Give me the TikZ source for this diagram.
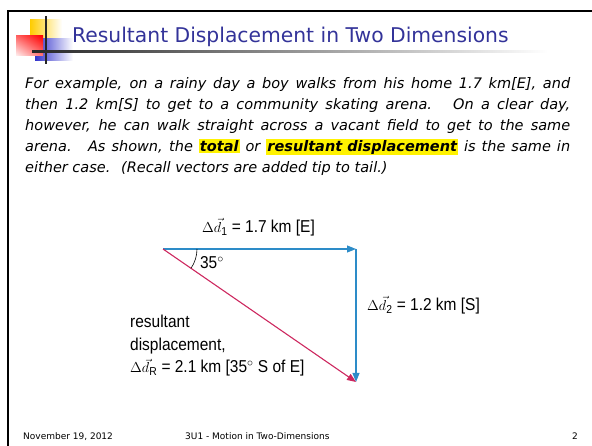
\documentclass[tikz,border=0pt]{standalone}
\usepackage{fontspec}
\setmainfont{DejaVu Sans}
\newfontfamily\figfont[FakeStretch=0.9]{Liberation Sans}
\usetikzlibrary{positioning, arrows.meta, angles, shadings}
\definecolor{TitleBlue}{RGB}{51,51,153}
\definecolor{VecBlue}{RGB}{45,140,200}
\definecolor{VecRed}{RGB}{205,40,95}
\definecolor{LogoYellow}{RGB}{255,204,0}
\definecolor{LogoBlue}{RGB}{51,51,204}
\newcommand{\hlt}[1]{{\setlength{\fboxsep}{1pt}\colorbox{yellow}{#1}}}
\newcommand{\dvec}[1]{{\fontsize{15}{15}\selectfont$\Delta\vec{d}_{\mbox{\fontsize{11.5}{11.5}\selectfont #1}}$}}
\tikzset{
  vec/.style={-{Triangle[length=9pt,width=7pt]}, line width=1.1pt},
  legvec/.style={vec, VecBlue},
  resvec/.style={vec, VecRed},
  veclab/.style={font=\figfont\fontsize{17.2}{22.5}\selectfont, inner sep=0pt},
  foot/.style={font=\fontsize{9}{11}\selectfont, anchor=base west, inner sep=0pt},
}

\begin{document}
\begin{tikzpicture}[x=1pt, y=-1pt]
\useasboundingbox (0,0) rectangle (592,446);
% slide frame
\draw[line width=2pt] (8,446) -- (8,11.5) -- (592,11.5);
% logo squares and cross
\shade[left color=LogoYellow, right color=white] (30,20) rectangle (62,48);
\shade[left color=LogoBlue, right color=white] (35,39) rectangle (73,61);
\shade[lower left=red!5, upper right=red, upper left=red!60, lower right=red!55] (16,36) rectangle (43,56);
\draw[line width=1.6pt, black!85] (45.7,16) -- (45.7,64);
\shade[left color=black!85, right color=white] (32,50.8) rectangle (548,52.6);
% title
\node[anchor=base west, text=TitleBlue, font=\fontsize{20.3}{24}\selectfont, inner sep=0pt] (title) at (72,43) {Resultant Displacement in Two Dimensions};
% text
\node[anchor=base west, text width=545pt, align=justify, inner sep=0pt, font=\itshape\fontsize{14.5}{20.8}\selectfont] (intro) at (25,89) {For example, on a rainy day a boy walks from his home 1.7 km[E], and\linebreak
then 1.2 km[S] to get to a community skating arena.~ On a clear day,\linebreak
however, he can walk straight across a vacant field to get to the same\linebreak
arena.~ As shown, the \hlt{\textbf{total}} or \hlt{\textbf{resultant displacement}} is the same in\linebreak
either case.~ (Recall vectors are added tip to tail.)};
% vectors
\coordinate (home) at (163,249);
\coordinate (turn) at (356,249);
\coordinate (arena) at (356,382);
\draw[legvec] (home) -- (turn);
\draw[legvec] (turn) -- (arena);
\draw[resvec] (home) -- (arena);
\pic[draw, line width=0.6pt, angle radius=34pt] {angle=arena--home--turn};
\node[veclab, anchor=west] (d1lab) at (202,227) {\dvec{1} = 1.7 km [E]};
\node[veclab, anchor=west] (d2lab) at (367,305) {\dvec{2} = 1.2 km [S]};
\node[veclab] (anglab) at (212,263) {35$^\circ$};
\node[veclab, anchor=west, align=left] (reslab) at (130,346) {resultant\\displacement,\\\dvec{R} = 2.1 km [35$^\circ$ S of E]};
% footer
\node[foot] (date) at (23,439) {November 19, 2012};
\node[foot] (course) at (185,439) {3U1 - Motion in Two-Dimensions};
\node[foot] (page) at (572,439) {2};
\end{tikzpicture}
\end{document}
